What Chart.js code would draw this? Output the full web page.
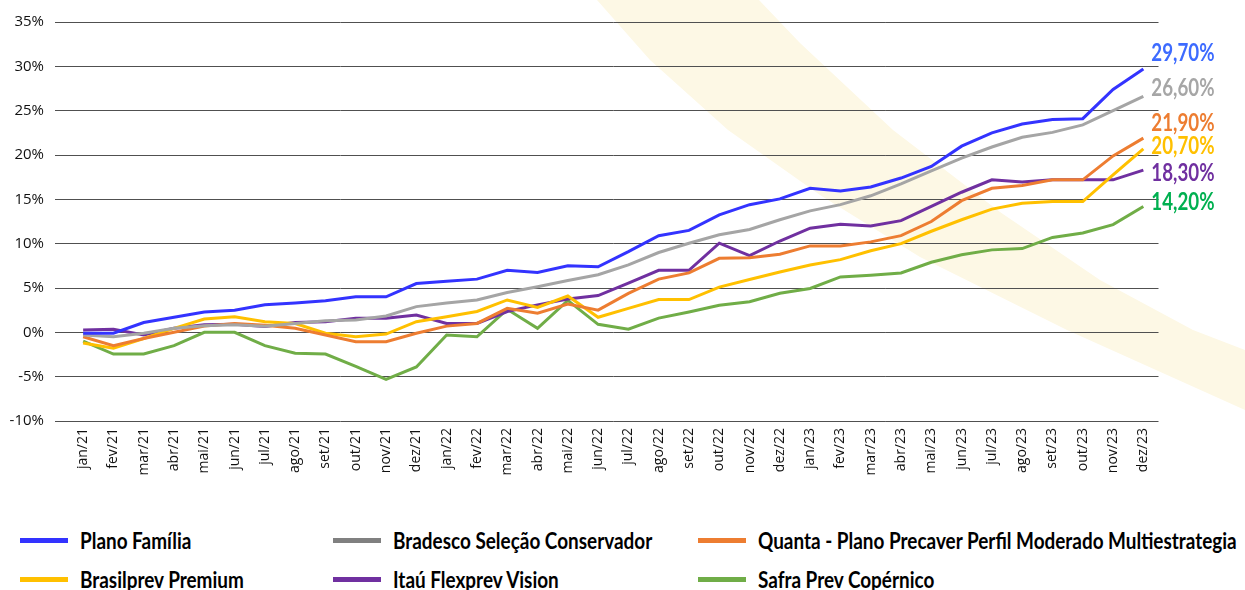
<!DOCTYPE html>
<html>
<head>
<meta charset="utf-8">
<script src="https://cdn.jsdelivr.net/npm/chart.js@4"></script>
<style>
  html, body { margin: 0; padding: 0; background: #fff; }
  #wrap { position: relative; width: 1245px; height: 590px; overflow: hidden; }
  #chart { position: absolute; left: 0; top: 0; }
  .leg { position: absolute; display: flex; align-items: center; white-space: nowrap;
         font: bold 22px Lato, "Open Sans", sans-serif; color: #000; }
  .leg span.sw { display: inline-block; width: 48px; height: 5px; margin-right: 12px; flex: none; }
  .leg span.tx { display: inline-block; transform: scaleX(0.86); transform-origin: left center; }
</style>
</head>
<body>
<div id="wrap">
  <canvas id="chart" width="1245" height="520"></canvas>
  <div id="legend"></div>
</div>
<script>
// months on the x axis
const months = ['jan/21','fev/21','mar/21','abr/21','mai/21','jun/21','jul/21','ago/21','set/21','out/21','nov/21','dez/21',
                'jan/22','fev/22','mar/22','abr/22','mai/22','jun/22','jul/22','ago/22','set/22','out/22','nov/22','dez/22',
                'jan/23','fev/23','mar/23','abr/23','mai/23','jun/23','jul/23','ago/23','set/23','out/23','nov/23','dez/23'];

// accumulated returns (%)
const planoFamilia = [-0.1, -0.1, 1.1, 1.7, 2.3, 2.5, 3.1, 3.3, 3.55, 4.0, 4.0, 5.5,
                      5.75, 6.0, 7.0, 6.75, 7.5, 7.4, 9.1, 10.9, 11.5, 13.25, 14.4, 15.05,
                      16.25, 15.95, 16.4, 17.4, 18.7, 21.0, 22.5, 23.5, 24.0, 24.1, 27.4, 29.7];
const bradesco = [-0.3, -0.5, -0.1, 0.45, 0.75, 0.85, 0.7, 1.0, 1.3, 1.4, 1.85, 2.9,
                  3.3, 3.65, 4.5, 5.15, 5.85, 6.5, 7.6, 9.0, 10.05, 11.0, 11.6, 12.7,
                  13.7, 14.4, 15.4, 16.75, 18.2, 19.65, 20.9, 22.0, 22.55, 23.4, 25.0, 26.6];
const quanta = [-0.5, -1.5, -0.7, 0.0, 0.7, 1.0, 0.8, 0.45, -0.3, -1.05, -1.05, -0.1,
                0.7, 1.0, 2.7, 2.15, 3.2, 2.5, 4.4, 6.0, 6.7, 8.35, 8.4, 8.8,
                9.75, 9.75, 10.2, 10.9, 12.5, 14.85, 16.25, 16.55, 17.2, 17.2, 19.9, 21.9];
const brasilprev = [-1.2, -1.8, -0.7, 0.45, 1.5, 1.75, 1.2, 1.0, -0.1, -0.5, -0.2, 1.2,
                    1.75, 2.35, 3.65, 2.8, 4.1, 1.7, 2.7, 3.7, 3.7, 5.1, 5.95, 6.8,
                    7.6, 8.2, 9.2, 10.0, 11.4, 12.7, 13.9, 14.55, 14.75, 14.75, 17.75, 20.7];
const itau = [0.25, 0.35, -0.3, 0.45, 0.85, 0.9, 0.65, 1.1, 1.2, 1.6, 1.6, 1.95,
              1.0, 1.0, 2.35, 3.1, 3.75, 4.15, 5.55, 7.0, 7.0, 10.05, 8.65, 10.3,
              11.75, 12.2, 12.0, 12.6, 14.2, 15.8, 17.2, 16.95, 17.2, 17.2, 17.2, 18.3];
const safra = [-1.0, -2.45, -2.45, -1.5, 0.0, 0.0, -1.5, -2.35, -2.45, -3.85, -5.3, -3.9,
               -0.3, -0.5, 2.6, 0.45, 3.6, 0.9, 0.35, 1.6, 2.3, 3.05, 3.45, 4.4,
               4.95, 6.25, 6.45, 6.7, 7.9, 8.75, 9.3, 9.45, 10.7, 11.2, 12.15, 14.2];

const seriesNames = ['Plano Família', 'Bradesco Seleção Conservador', 'Quanta - Plano Precaver Perfil Moderado Multiestrategia',
                     'Brasilprev Premium', 'Itaú Flexprev Vision', 'Safra Prev Copérnico'];
const seriesData = [planoFamilia, bradesco, quanta, brasilprev, itau, safra];
const yTicks = [-10, -5, 0, 5, 10, 15, 20, 25, 30, 35];

// styles
const lineColors = ['#3333FF', '#A5A5A5', '#ED7D31', '#FFC000', '#7030A0', '#70AD47'];
const swatchColors = ['#3333FF', '#808080', '#ED7D31', '#FFC000', '#7030A0', '#70AD47'];
const endLabelColors = ['#3D6BFF', '#A6A6A6', '#ED7D31', '#FFC000', '#7030A0', '#00B050'];
const endLabelShift = [-16, -8, -15, -3, 3, -4];

// pale diagonal band in the background
const bandPlugin = {
    id: 'band',
    beforeDraw(chart) {
        const ctx = chart.ctx;
        ctx.save();
        ctx.fillStyle = '#FDF8E5';
        ctx.beginPath();
        ctx.moveTo(597, 0);
        ctx.lineTo(650, 60);
        ctx.lineTo(728, 130);
        ctx.lineTo(820, 195);
        ctx.lineTo(920, 257);
        ctx.lineTo(1067, 330);
        ctx.lineTo(1245, 410);
        ctx.lineTo(1245, 350);
        ctx.lineTo(1193, 330);
        ctx.lineTo(1100, 280);
        ctx.lineTo(1000, 212);
        ctx.lineTo(893, 130);
        ctx.lineTo(800, 43);
        ctx.lineTo(759, 0);
        ctx.closePath();
        ctx.fill();
        ctx.restore();
    }
};

// value labels at the end of each line (condensed by a horizontal squeeze)
const endLabels = {
    id: 'endLabels',
    afterDatasetsDraw(chart) {
        const ctx = chart.ctx;
        chart.data.datasets.forEach((ds, i) => {
            const meta = chart.getDatasetMeta(i);
            const pt = meta.data[meta.data.length - 1];
            const v = ds.data[ds.data.length - 1];
            ctx.save();
            ctx.translate(pt.x + 8, pt.y + endLabelShift[i]);
            ctx.scale(0.78, 1);
            ctx.font = 'bold 24px Lato, "Open Sans", sans-serif';
            ctx.fillStyle = endLabelColors[i];
            ctx.textAlign = 'left';
            ctx.textBaseline = 'middle';
            ctx.fillText(v.toFixed(2).replace('.', ',') + '%', 0, 0);
            ctx.restore();
        });
    }
};

const datasets = seriesNames.map((name, i) => ({
    label: name,
    data: seriesData[i],
    borderColor: lineColors[i],
    backgroundColor: lineColors[i],
    borderWidth: 3,
    pointRadius: 0,
    tension: 0,
    fill: false
}));

new Chart(document.getElementById('chart'), {
    type: 'line',
    data: { labels: months, datasets: datasets },
    options: {
        responsive: false,
        animation: false,
        devicePixelRatio: 1,
        layout: { padding: { top: 22, right: 86.5, left: 0, bottom: 0 } },
        plugins: { legend: { display: false }, tooltip: { enabled: false } },
        scales: {
            x: {
                offset: true,
                grid: { display: false, drawTicks: false },
                border: { display: false },
                ticks: {
                    minRotation: 90, maxRotation: 90, autoSkip: false, padding: 7,
                    color: '#111', font: { family: '"Open Sans", sans-serif', size: 14 }
                },
                afterFit(scale) { scale.height = 99; }
            },
            y: {
                min: -10, max: 35,
                afterBuildTicks(scale) { scale.ticks = yTicks.map(v => ({ value: v })); },
                grid: { color: '#505050', lineWidth: 1, tickLength: 13, drawTicks: true },
                border: { display: false },
                ticks: {
                    padding: 11, color: '#111',
                    font: { family: '"Open Sans", sans-serif', size: 15 },
                    callback: v => v + '%'
                },
                afterFit(scale) { scale.width = 68; }
            }
        }
    },
    plugins: [bandPlugin, endLabels]
});

// legend below the chart
const legCols = [20, 333, 698];
const legRows = [540, 579];
const legend = document.getElementById('legend');
seriesNames.forEach((name, i) => {
    const item = document.createElement('div');
    item.className = 'leg';
    item.style.left = legCols[i % 3] + 'px';
    item.style.top = (legRows[Math.floor(i / 3)] - 14) + 'px';
    item.style.height = '28px';
    const sw = document.createElement('span');
    sw.className = 'sw';
    sw.style.background = swatchColors[i];
    const tx = document.createElement('span');
    tx.className = 'tx';
    tx.textContent = name;
    item.appendChild(sw);
    item.appendChild(tx);
    legend.appendChild(item);
});
</script>
</body>
</html>
